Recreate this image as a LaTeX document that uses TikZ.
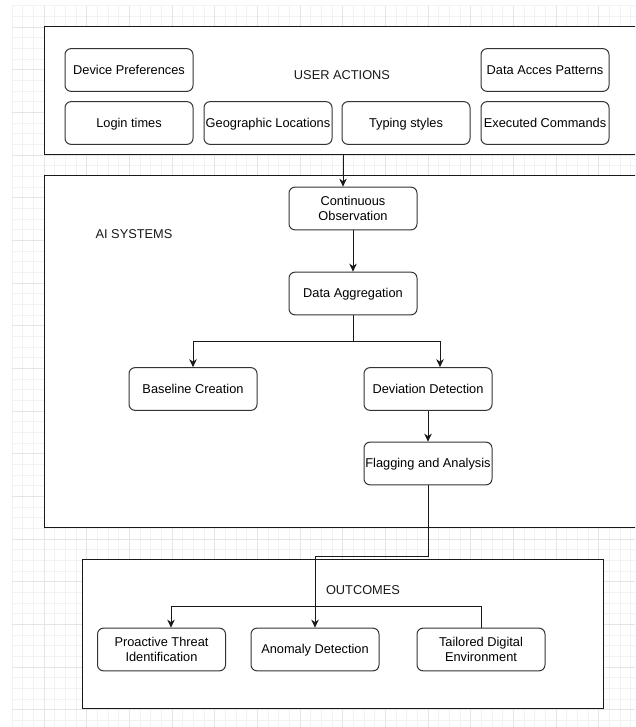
\documentclass[tikz,border=0pt]{standalone}
\usepackage{fontspec}
\setmainfont{Liberation Sans}
\usetikzlibrary{arrows.meta}
\begin{document}
\begin{tikzpicture}[x=1pt,y=-1pt,
  every node/.style={font=\fontsize{12.8}{15.5}\selectfont},
  gridminor/.style={draw=black!5, line width=0.8pt},
  gridmajor/.style={draw=black!10, line width=0.8pt},
  group/.style={draw=black!90, line width=1pt, fill=white, inner sep=0},
  item/.style={draw=black!80, line width=1pt, fill=white, rounded corners=6pt,
    minimum width=128, minimum height=42.7, inner sep=0, align=center, text depth=0.5pt},
  caption/.style={inner sep=0, text=black!90, text depth=0.5pt},
  link/.style={draw=black!90, line width=1pt},
  arr/.style={link, -{Stealth[length=8pt,width=7.5pt,inset=2.5pt]}}]
\clip (0,0) rectangle (635,727);
\fill[white] (0,0) rectangle (635,727);

% background grid
\foreach \k in {-3,...,55} \draw[gridminor] ({44+10.667*\k},5.67) -- ({44+10.667*\k},727);
\foreach \k in {-2,...,65} \draw[gridminor] (12,{27+10.667*\k}) -- (635,{27+10.667*\k});
\foreach \k in {0,...,13} \draw[gridmajor] ({44+42.667*\k},5.67) -- ({44+42.667*\k},727);
\foreach \k in {0,...,17} \draw[gridmajor] (12,{27+42.667*\k}) -- (635,{27+42.667*\k});

% containers
\node[group, minimum width=598, minimum height=128] (ua) at (343,91) {};
\node[group, minimum width=598, minimum height=351] (ai) at (343,351.5) {};
\node[group, minimum width=521, minimum height=149] (oc) at (342.5,633.5) {};

% container captions
\node[caption] (ualbl) at (342,75) {USER ACTIONS};
\node[caption] (ailbl) at (134,234) {AI SYSTEMS};
\node[caption] (oclbl) at (363,590) {OUTCOMES};

% user actions
\node[item] (dp)  at (129,70)  {Device Preferences};
\node[item] (lt)  at (129,123) {Login times};
\node[item] (gl)  at (268,123) {Geographic Locations};
\node[item] (ts)  at (406,123) {Typing styles};
\node[item] (dap) at (545,70)  {Data Acces Patterns};
\node[item] (ec)  at (545,123) {Executed Commands};

% AI systems
\node[item] (co) at (353,208.5) {Continuous\\Observation};
\node[item] (da) at (353,293.5) {Data Aggregation};
\node[item] (bc) at (193,389)   {Baseline Creation};
\node[item] (dd) at (428,389)   {Deviation Detection};
\node[item] (fa) at (428,463.5) {Flagging and Analysis};

% outcomes
\node[item] (pt) at (161.5,649.5) {Proactive Threat\\Identification};
\node[item] (an) at (315,649.5)   {Anomaly Detection};
\node[item] (td) at (481,649.5)   {Tailored Digital\\Environment};

% connectors
\draw[arr] (ua.south) -- (ua.south |- co.north);
\draw[arr] (co.south) -- (da.north);
\coordinate (split) at (353,341);
\draw[link] (da.south) -- (split);
\draw[arr] (split) -| (bc.north);
\draw[arr] (split) -| ([xshift=12pt]dd.north);
\draw[arr] (dd.south) -- (fa.north);
\coordinate (drop) at (428,556);
\draw[arr] (fa.south) -- (drop) -| (an.north);
\draw[arr] (td.north) -- ++(0,-21) -| ([xshift=9.5pt]pt.north);
\end{tikzpicture}
\end{document}
